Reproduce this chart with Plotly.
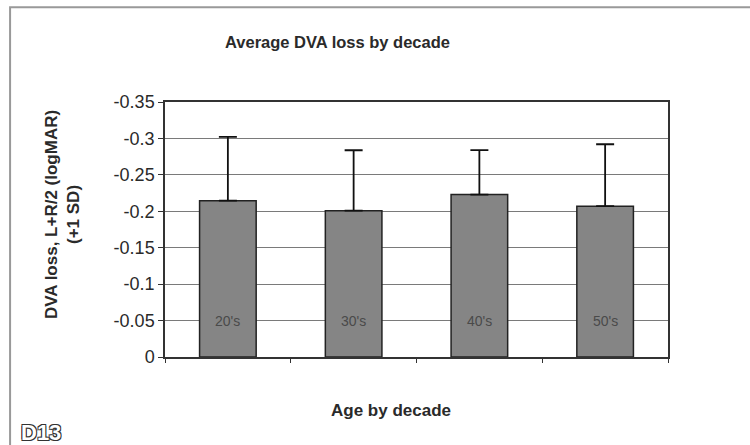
import plotly.graph_objects as go

categories = ["20's", "30's", "40's", "50's"]
mean_loss = [-0.2145, -0.2008, -0.223, -0.207]
sd_loss = [0.0875, 0.083, 0.061, 0.085]
y_tick_vals = [0, -0.05, -0.1, -0.15, -0.2, -0.25, -0.3, -0.35]
y_tick_text = ["0", "-0.05", "-0.1", "-0.15", "-0.2", "-0.25", "-0.3", "-0.35"]
label_level = -0.05

FONT = "Liberation Sans, Arial, sans-serif"
TXT = "#2a2a2a"

fig = go.Figure()
fig.add_trace(go.Bar(
    x=categories, y=mean_loss,
    marker=dict(color="#858585", line=dict(color="#222222", width=1.5)),
    error_y=dict(type="data", symmetric=False, array=[0] * len(sd_loss),
                 arrayminus=sd_loss, color="#111111", thickness=1.8, width=9),
    hoverinfo="skip",
))

for c in categories:
    fig.add_annotation(x=c, y=label_level, text=c, showarrow=False,
                       font=dict(family=FONT, size=14, color="#4a4a4a"))

fig.update_layout(
    width=750, height=445,
    margin=dict(l=165, r=82, t=102, b=88),
    paper_bgcolor="white", plot_bgcolor="white",
    showlegend=False, bargap=0.55,
    font=dict(family=FONT, size=14, color=TXT),
    title=dict(text="<b>Average DVA loss by decade</b>", xref="container", x=0.45,
               xanchor="center", y=0.905, yanchor="middle",
               font=dict(family=FONT, size=16.5, color=TXT)),
)
fig.update_yaxes(range=[0, -0.35], tickvals=y_tick_vals, ticktext=y_tick_text,
                 showgrid=True, gridcolor="#7a7a7a", gridwidth=1,
                 showline=True, linecolor="#333333", linewidth=1.5, mirror=True,
                 ticks="outside", ticklen=5, tickcolor="#333333",
                 tickfont=dict(family=FONT, size=18, color=TXT),
                 zeroline=False)
fig.update_xaxes(showticklabels=False, showline=True, linecolor="#333333",
                 linewidth=1.5, mirror=True, ticks="outside", tickson="boundaries",
                 ticklen=4, tickcolor="#333333", showgrid=False)

# axis titles
fig.add_annotation(xref="paper", yref="paper", x=-0.205, y=0.56, textangle=-90,
                   text="<b>DVA loss, L+R/2 (logMAR)<br>(+1 SD)</b>", showarrow=False,
                   font=dict(family=FONT, size=17, color=TXT),
                   xanchor="center", yanchor="middle")
fig.add_annotation(xref="paper", yref="paper", x=0.45, y=-0.21,
                   text="<b>Age by decade</b>", showarrow=False,
                   font=dict(family=FONT, size=17, color=TXT),
                   xanchor="center", yanchor="middle")
# D13 label
fig.add_annotation(xref="paper", yref="paper", x=-0.29, y=-0.295,
                   text="<b>D13</b>", showarrow=False, xanchor="left", yanchor="middle",
                   font=dict(family=FONT, size=22, color="white",
                             shadow="1px 1px 0 #333, -1px -1px 0 #333, 1px -1px 0 #333, -1px 1px 0 #333"))
# outer chart frame
fig.add_shape(type="rect", xref="paper", yref="paper", x0=-0.308, x1=1.6,
              y0=-0.6, y1=1.372, line=dict(color="#999999", width=2), layer="below")

fig.write_html("out.html", config={"displayModeBar": False},
               post_script="document.body.style.margin='0';")
